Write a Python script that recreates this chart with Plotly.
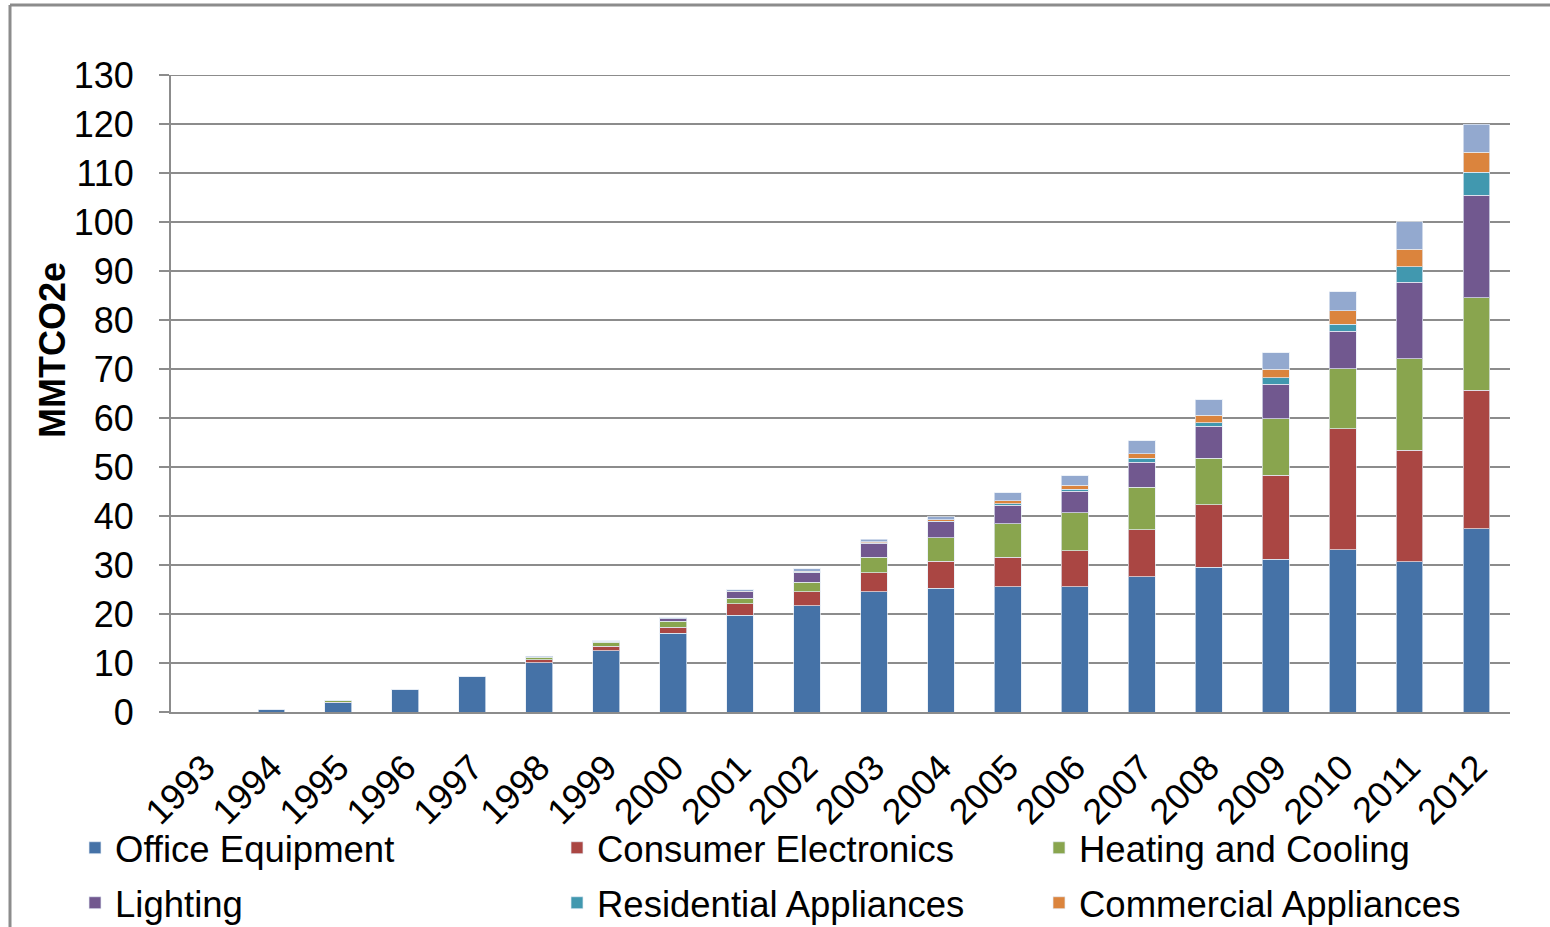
import plotly.graph_objects as go

years = [str(y) for y in range(1993, 2013)]

office_equipment = [0, 0.6, 1.9, 4.5, 7.2, 10.1, 12.5, 16.1, 19.7, 21.7, 24.5, 25.3, 25.6, 25.6, 27.6, 29.5, 31.2, 33.1, 30.7, 37.4]
consumer_electronics = [0, 0, 0.1, 0, 0, 0.6, 0.9, 1.2, 2.4, 2.8, 3.9, 5.5, 6.0, 7.3, 9.6, 12.8, 17.1, 24.7, 22.7, 28.3]
heating_cooling = [0, 0, 0.3, 0.1, 0.1, 0.5, 0.8, 1.2, 1.1, 2.0, 3.2, 4.8, 6.8, 7.8, 8.7, 9.5, 11.5, 12.3, 18.7, 18.8]
lighting = [0, 0, 0, 0, 0, 0.1, 0.2, 0.5, 1.3, 1.9, 2.8, 3.2, 3.8, 4.4, 5.1, 6.5, 7.1, 7.6, 15.6, 21.0]
residential_appliances = [0, 0, 0, 0, 0, 0, 0, 0, 0, 0.1, 0.1, 0.1, 0.3, 0.4, 0.8, 0.7, 1.3, 1.4, 3.2, 4.7]
commercial_appliances = [0, 0, 0, 0, 0, 0, 0, 0, 0.1, 0.2, 0.2, 0.3, 0.6, 0.8, 0.9, 1.6, 1.8, 2.8, 3.5, 4.0]
other = [0, 0, 0, 0, 0, 0.1, 0.1, 0.2, 0.4, 0.5, 0.6, 0.6, 1.6, 1.9, 2.7, 3.1, 3.3, 3.9, 5.7, 5.8]

series = [
    ("Office Equipment", office_equipment, "#4572A7"),
    ("Consumer Electronics", consumer_electronics, "#AA4643"),
    ("Heating and Cooling", heating_cooling, "#89A54E"),
    ("Lighting", lighting, "#71588F"),
    ("Residential Appliances", residential_appliances, "#4198AF"),
    ("Commercial Appliances", commercial_appliances, "#DB843D"),
    ("Other", other, "#93A9CF"),
]

FONT = "Liberation Sans"
W, H = 1550, 927
L, R, T, B = 171, 40, 75, 215
PW, PH = W - L - R, H - T - B

# legend positions (swatch centre x, row centre y) in pixels
leg_pos = [(99, 848), (581, 848), (1063, 848), (99, 903), (581, 903), (1063, 903)]

fig = go.Figure()
for i, (name, vals, col) in enumerate(series):
    kw = {}
    if i < 6:
        kw["legend"] = "legend" if i == 0 else f"legend{i+1}"
        kw["showlegend"] = True
    else:
        kw["showlegend"] = False
    fig.add_trace(go.Bar(
        x=years, y=vals, name=name,
        marker=dict(color=col, line=dict(color="rgba(230,236,245,0.7)", width=1)),
        **kw,
    ))

layout_legends = {}
for i, (px, py) in enumerate(leg_pos):
    key = "legend" if i == 0 else f"legend{i+1}"
    layout_legends[key] = dict(
        xref="container", yref="container",
        x=(px - 20 - 4) / W, y=1 - py / H,
        xanchor="left", yanchor="middle",
        orientation="h",
        font=dict(family=FONT, size=36.5, color="#000000"),
        bgcolor="rgba(0,0,0,0)",
        itemclick=False, itemdoubleclick=False,
    )

fig.update_layout(
    barmode="stack",
    bargap=0.6,
    width=W, height=H, autosize=False,
    margin=dict(l=L, r=R, t=T, b=B, pad=0),
    plot_bgcolor="white", paper_bgcolor="white",
    font=dict(family=FONT, size=34, color="#000000"),
    **layout_legends,
)

fig.update_yaxes(
    range=[0, 130], dtick=10, tick0=0,
    showgrid=True, gridcolor="#8C8C8C", gridwidth=2,
    showline=True, linecolor="#8C8C8C", linewidth=2,
    ticks="outside", ticklen=10, tickcolor="#8C8C8C", tickwidth=2,
    ticklabelstandoff=18,
    tickfont=dict(family=FONT, size=36, color="#000000"),
    zeroline=False,
    automargin=False,
)
fig.update_xaxes(
    type="category",
    showline=True, linecolor="#8C8C8C", linewidth=2,
    tickangle=-45,
    ticklabelstandoff=18,
    tickfont=dict(family=FONT, size=36, color="#000000"),
    ticks="", automargin=False,
)

# y-axis title
fig.add_annotation(
    text="<b>MMTCO2e</b>", textangle=-90,
    xref="paper", yref="paper",
    x=(52 - L) / PW, y=(H - B - 350) / PH,
    xanchor="center", yanchor="middle", showarrow=False,
    font=dict(family=FONT, size=36, color="#000000"),
)

# top gridline at 130 (edge of range)
fig.add_shape(type="line", xref="paper", yref="y", x0=-10 / PW, x1=1, y0=130, y1=130,
              line=dict(color="#8C8C8C", width=2))

# outer frame lines (top and left), as in the source screenshot
fx = (10 - L) / PW
fy_top = (H - B - 5) / PH
fy_bot = (H - B - H) / PH
fig.add_shape(type="line", xref="paper", yref="paper", x0=fx, x1=(W - L) / PW + 0.01, y0=fy_top, y1=fy_top,
              line=dict(color="#8C8C8C", width=3))
fig.add_shape(type="line", xref="paper", yref="paper", x0=fx, x1=fx, y0=fy_bot - 0.01, y1=fy_top,
              line=dict(color="#8C8C8C", width=3))

fig.write_html("out.html", config={"displayModeBar": False},
               post_script="document.body.style.margin='0';document.body.style.overflow='hidden';")
